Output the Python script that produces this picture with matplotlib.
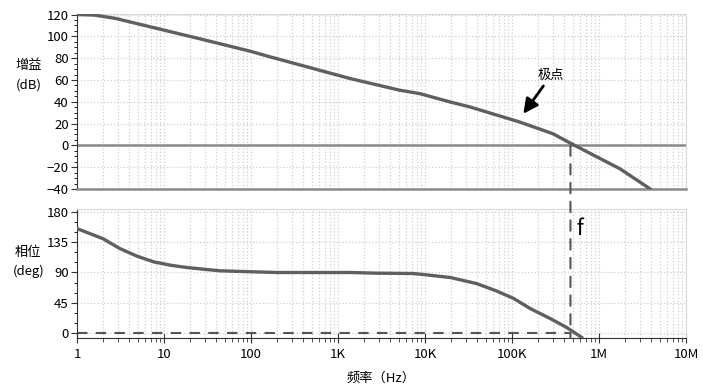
import numpy as np
import matplotlib.pyplot as plt
from matplotlib.patches import ConnectionPatch
from matplotlib.ticker import FixedLocator, LogLocator, NullFormatter

plt.rcParams['font.family'] = ['Noto Sans CJK SC', 'DejaVu Sans']

# gain curve (log10 of frequency, dB)
gain_logf = [0.0, 0.2, 0.44, 1.0, 1.38, 1.99, 2.22, 3.14, 3.71, 3.94, 4.29,
             4.52, 5.09, 5.47, 5.72, 6.24, 6.59]
gain_db = [120, 119.5, 116.5, 105.7, 98.4, 86.4, 81.2, 61.3, 50.6, 47.5, 39.8,
           35.2, 21.4, 10.7, 0.0, -21.4, -40]

# phase curve (log10 of frequency, degrees)
phase_logf = [0.0, 0.30, 0.49, 0.69, 0.88, 1.07, 1.26, 1.64, 2.02, 2.30, 3.14,
              3.44, 3.86, 3.98, 4.29, 4.59, 4.82, 5.02, 5.21, 5.44, 5.63, 5.80]
phase_deg = [155, 140, 125.6, 114.2, 105.8, 100.9, 97.4, 92.5, 91, 90, 90,
             89, 88.5, 87, 82.6, 73.7, 62.8, 51.5, 36.6, 21.8, 8.5, -6]

f_cross = 470e3
tick_vals = [1, 10, 100, 1e3, 1e4, 1e5, 1e6, 1e7]
tick_labels = ['1', '10', '100', '1K', '10K', '100K', '1M', '10M']

gain_f = np.power(10.0, gain_logf)
phase_f = np.power(10.0, phase_logf)

curve_col = '#5f5f5f'
grid_col = '#cfcfcf'

fig = plt.figure(figsize=(7.03, 3.91), dpi=100)
ax1 = fig.add_axes([0.1095, 0.5166, 0.8663, 0.4476])
ax2 = fig.add_axes([0.1095, 0.1355, 0.8663, 0.330])

for ax in (ax1, ax2):
    ax.set_xscale('log')
    ax.set_xlim(1, 1e7)
    ax.xaxis.set_major_locator(FixedLocator(tick_vals))
    ax.xaxis.set_minor_locator(LogLocator(base=10, subs=np.arange(2, 10)))
    ax.xaxis.set_minor_formatter(NullFormatter())
    ax.grid(True, which='both', axis='x', color=grid_col, linestyle=':', linewidth=0.9)
    ax.grid(True, which='major', axis='y', color=grid_col, linestyle=':', linewidth=0.9)
    ax.spines['top'].set_color('#d8d8d8')
    ax.spines['right'].set_color('#d8d8d8')
    ax.spines['left'].set_color('#333333')
    ax.tick_params(axis='y', labelsize=9.5, length=4, color='#333333', pad=2)
    ax.tick_params(axis='y', which='minor', length=2)

# gain plot
ax1.plot(gain_f, gain_db, color=curve_col, linewidth=2.4, zorder=3)
ax1.axhline(0, color='#8a8a8a', linewidth=1.8, zorder=2)
ax1.set_ylim(-40, 120.5)
ax1.set_yticks(np.arange(-40, 121, 20))
ax1.yaxis.set_minor_locator(FixedLocator(np.arange(-40, 121, 5)))
ax1.spines['bottom'].set_color('#8a8a8a')
ax1.spines['bottom'].set_linewidth(1.8)
ax1.tick_params(axis='x', which='both', bottom=False, labelbottom=False)
ax1.text(-0.08, 0.65, '增益\n(dB)', transform=ax1.transAxes, ha='center', va='center',
         fontsize=9.5, linespacing=1.6)
ax1.annotate('极点', xy=(1.35e5, 29), xytext=(2.8e5, 64), fontsize=9.5,
             ha='center', va='center',
             arrowprops=dict(arrowstyle='-|>', color='black', lw=2,
                             mutation_scale=22, shrinkA=1, shrinkB=0))

# phase plot
ax2.plot(phase_f, phase_deg, color=curve_col, linewidth=2.4, zorder=3)
ax2.plot([1, f_cross], [0, 0], color='#555555', linestyle=(0, (5, 4)), linewidth=1.5, zorder=2)
ax2.set_ylim(-7, 184)
ax2.set_yticks([0, 45, 90, 135, 180])
ax2.yaxis.set_minor_locator(FixedLocator(np.arange(0, 181, 15)))
ax2.spines['bottom'].set_color('#333333')
ax2.set_xticklabels(tick_labels)
ax2.tick_params(axis='x', which='major', direction='inout', length=7, labelsize=9.5, color='#333333')
ax2.tick_params(axis='x', which='minor', direction='out', length=3, color='#333333')
ax2.text(-0.08, 0.59, '相位\n(deg)', transform=ax2.transAxes, ha='center', va='center',
         fontsize=9.5, linespacing=1.6)
ax2.text(5.55e5, 155, 'f', fontsize=15, ha='left', va='center')
ax2.set_xlabel('频率（Hz）', fontsize=9.5, labelpad=8)

# dashed marker line at the crossover frequency, running across both plots
con = ConnectionPatch(xyA=(f_cross, 0), coordsA=ax1.transData,
                      xyB=(f_cross, -7), coordsB=ax2.transData,
                      color='#555555', linestyle=(0, (5, 4)), linewidth=1.5, zorder=5)
fig.add_artist(con)

fig.savefig('out.png', dpi=100)
